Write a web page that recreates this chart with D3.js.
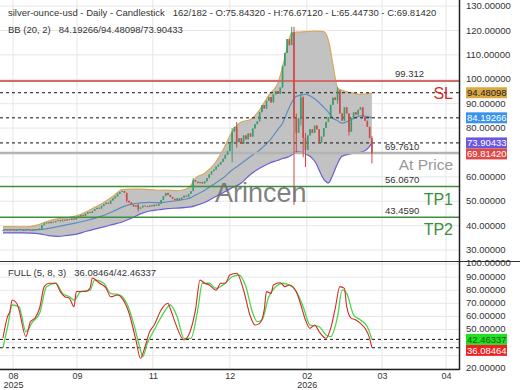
<!DOCTYPE html>
<meta charset="utf-8">
<style>
body { margin:0; background:#fff; }
text { font-family: "Liberation Sans", Arial, sans-serif; }
.grid line { stroke:#e6e6e6; stroke-width:1; }
.axis text { fill:#333; font-size:9.5px; }
.hdr { fill:#333; font-size:9.5px; white-space:pre; }
.lvl { fill:#333; font-size:9.5px; }
</style>
<body>
<svg width="520" height="390"></svg>
<script src="https://cdn.jsdelivr.net/npm/d3@7"></script>
<script>
// daily closes, bar 0 .. 161 (open = previous close)
var closes = [
  38.2,38.4,38.1,38.5,38.3,38.0,38.4,38.6,38.3,38.1,38.5,38.2,38.0,38.4,38.3,38.6,38.8,
  40.2,40.9,41.3,41.0,41.6,41.4,41.9,42.2,41.8,42.4,42.1,42.6,42.3,42.9,42.5,
  43.2,43.8,44.4,44.0,44.9,45.5,45.2,
  46.0,46.8,47.3,47.0,48.1,48.8,49.4,49.0,50.3,51.2,52.0,53.1,53.8,
  54.2,53.4,
  50.2,49.5,48.6,47.8,48.4,46.9,
  47.5,48.2,48.0,47.6,48.3,47.9,48.6,48.2,49.0,
  50.5,52.1,53.4,52.6,
  51.8,51.0,50.4,51.2,50.6,
  51.5,52.3,51.9,53.0,54.1,
  58.6,
  58.0,57.4,57.9,57.3,58.2,
  59.5,61.0,62.3,63.0,64.2,65.0,66.1,67.4,69.0,
  70.5,73.8,78.6,
  80.5,74.2,75.8,73.5,77.0,75.4,77.8,76.5,
  79.8,81.6,82.8,86.5,89.4,
  88.0,91.2,92.7,90.5,93.8,95.2,94.0,96.6,
  105.5,110.8,116.5,114.0,119.2,
  84.0,
  78.0,84.0,92.5,76.0,71.0,
  77.0,79.5,78.0,81.0,79.5,74.0,76.5,80.0,82.5,84.5,89.5,92.5,91.5,95.5,
  86.0,83.0,88.5,86.0,78.5,84.0,86.5,85.5,87.5,88.5,84.5,83.0,80.5,75.8432,69.8142
];
// notable wicks: [bar, high, low]
var wicks = [
  [54,53.5,49.5],[59,49.0,45.8],[83,59.5,55.5],[100,80.0,66.0],[102,82.5,72.0],
  [126,121.5,117.0],[127,121.5,48.5],[128,86.0,70.0],[130,94.0,81.0],[131,93.0,68.0],
  [132,78.0,64.0],[146,96.8,90.0],[151,86.0,77.0],[161,76.6712,65.4473]
];

// Bollinger (20, 2)
var bbIdx = [0,4,8,12,16,20,24,28,32,36,40,44,48,52,56,60,64,68,72,76,80,82,84,88,92,96,100,104,108,112,116,120,122,124,126,128,132,136,140,142,144,146,148,152,156,160,161];
var bbUpper = [39.6,39.6,39.5,39.6,40.5,42.0,42.8,43.3,44.0,45.5,47.5,49.5,52.0,54.8,55.0,55.0,54.8,54.5,54.6,54.3,55.0,56.5,59.5,61.5,65.0,71.0,78.5,82.5,83.5,87.5,93.5,98.5,105.0,113.0,119.0,119.3,119.5,119.7,119.5,116.0,106.0,96.5,95.5,94.5,93.8,94.2,94.48098];
var bbMid = [38.3,38.3,38.3,38.3,38.4,38.9,39.6,40.4,41.1,42.0,43.0,44.2,45.8,47.6,48.8,49.3,49.5,49.4,49.8,50.2,50.9,51.5,52.5,54.5,57.0,59.5,62.8,65.5,68.3,71.0,74.5,79.5,82.0,86.5,90.5,93.0,93.8,92.0,88.5,86.5,84.0,83.0,82.0,83.5,85.0,84.5,84.19266];
var bbLower = [37.0,37.0,37.0,36.9,36.6,35.9,35.6,36.0,36.5,37.6,38.6,39.5,40.5,41.5,43.0,44.8,46.0,46.5,47.0,47.2,47.5,47.7,48.2,49.5,51.5,53.5,55.5,57.5,61.0,63.5,65.5,66.8,67.5,68.0,69.0,70.3,69.5,66.5,59.0,57.5,61.0,65.5,68.5,69.5,70.0,72.5,73.90433];

// stochastic FULL (5, 8, 3): [bar, value]
var stochK = [[0,43.5],[2,60],[3,63.6],[4,72.5],[6,70],[7,65],[10,44.5],[12,56],[14,58.8],[16,66.4],[18,82.7],[20,85.3],[23,85.3],[25,78.9],[27,75],[29,73.8],[31,67.4],[32,79],[36,79],[38,81.7],[39,89.3],[42,85.5],[45,81.6],[47,75],[50,76.3],[52,73.8],[55,62.6],[58,42],[60,28],[62,36.9],[64,48.3],[66,53.4],[69,64.9],[72,70],[73,66],[75,56],[79,42],[80,43],[84,65],[86,87.8],[88,85.3],[90,84],[93,80],[95,85.3],[97,85.3],[99,91.6],[102,92.9],[105,80],[108,59.8],[110,53.4],[112,54.7],[114,65],[115,78.9],[117,77.6],[118,84],[121,85.7],[123,82.7],[125,84],[128,78.9],[130,68.7],[132,57.3],[134,50.9],[136,53.4],[138,48.3],[141,43.3],[143,50.9],[145,66.2],[147,82.7],[149,81.4],[150,67.4],[152,58.5],[154,57.3],[156,54.7],[158,50.9],[160,43.3],[161,36.08464]];
var stochD = [[0,36],[2,52],[4,68.7],[7,67.4],[10,48.3],[13,56],[16,62.4],[19,82.7],[23,85.3],[26,77.6],[29,75],[31,72.5],[34,78.9],[38,80],[40,87.8],[44,85.3],[47,77.6],[51,76.3],[54,70],[57,54.7],[60,34.4],[61,29.3],[63,39.5],[66,49.6],[70,62.4],[73,68.7],[76,59.8],[79,43.3],[82,43.3],[85,65],[87,85.3],[90,85.3],[93,81.4],[97,85.3],[100,90.3],[103,91.6],[106,82.7],[109,62.4],[111,56],[113,57.3],[116,75],[119,82.7],[122,85.3],[125,84],[128,78.9],[131,67.4],[134,53.4],[138,52.1],[141,45.8],[143,44.5],[146,59.8],[148,80.2],[150,77.6],[153,61.1],[156,57.3],[159,52.1],[161,42.46337]];

// price levels
var resist = 99.312, atPrice = 69.761, tp1 = 56.067, tp2 = 43.459;
var stochLevels = [42.46337, 36.08464];

// x axis ticks (bar position) and labels
var tickIdx = [4.4, 32.3, 65.4, 99, 132.6, 165.4, 193.3];
var tickLabels = ["08", "09", "11", "12", "02", "03", "04"];
var yearLabels = {"08": "2025", "02": "2026"};
var priceTicks = [30, 40, 50, 60, 70, 80, 90, 100, 110, 120, 130];
var priceLabelTicks = [30, 40, 50, 60, 80, 90, 100, 110, 120, 130];
var stochTicks = [20, 30, 40, 50, 60, 70, 80, 90, 100];
var stochLabelTicks = [20, 50, 60, 70, 80, 90, 100];

var svg = d3.select("svg"),
    plotW = 459;

var x = d3.scaleLinear().domain([-1.3, 199]).range([0, plotW]);
var yP = d3.scaleLinear().domain([25.5, 132.5]).range([261, 0]);
var yS = d3.scaleLinear().domain([19.85, 102.3]).range([369, 261]);

var defs = svg.append("defs");
defs.append("clipPath").attr("id", "cTop").append("rect").attr("x", 0).attr("y", 0).attr("width", plotW).attr("height", 261);
defs.append("clipPath").attr("id", "cBot").append("rect").attr("x", 0).attr("y", 261).attr("width", plotW).attr("height", 108);

// grids
var grid = svg.append("g").attr("class", "grid");
grid.selectAll(".gp").data(priceTicks).enter().append("line")
    .attr("x1", 0).attr("x2", plotW).attr("y1", yP).attr("y2", yP);
grid.selectAll(".gs").data(stochTicks).enter().append("line")
    .attr("x1", 0).attr("x2", plotW).attr("y1", yS).attr("y2", yS);
grid.selectAll(".gx").data(tickIdx).enter().append("line")
    .attr("x1", x).attr("x2", x).attr("y1", 0).attr("y2", 369);

// ---- price panel
var priceG = svg.append("g").attr("clip-path", "url(#cTop)");

var bb = bbIdx.map(function(d, i) { return {i: d, u: bbUpper[i], m: bbMid[i], l: bbLower[i]}; });
priceG.append("path").datum(bb)
    .attr("fill", "#c2c2c2")
    .attr("d", d3.area().curve(d3.curveMonotoneX)
      .x(function(d) { return x(d.i); })
      .y0(function(d) { return yP(d.l); })
      .y1(function(d) { return yP(d.u); }));
function bbLine(key, color) {
  priceG.append("path").datum(bb)
      .attr("fill", "none").attr("stroke", color).attr("stroke-width", 1.2)
      .attr("d", d3.line().curve(d3.curveMonotoneX)
        .x(function(d) { return x(d.i); })
        .y(function(d) { return yP(d[key]); }));
}
bbLine("u", "#d8a855");
bbLine("m", "#5c8ec0");
bbLine("l", "#6a5fd4");

// level lines
priceG.append("line").attr("x1", 0).attr("x2", plotW).attr("y1", yP(resist)).attr("y2", yP(resist))
    .attr("stroke", "#d46a6a").attr("stroke-width", 2);
priceG.append("line").attr("x1", 0).attr("x2", plotW).attr("y1", yP(atPrice)).attr("y2", yP(atPrice))
    .attr("stroke", "#b4b4b4").attr("stroke-width", 2.5);
[tp1, tp2].forEach(function(v) {
  priceG.append("line").attr("x1", 0).attr("x2", plotW).attr("y1", yP(v)).attr("y2", yP(v))
      .attr("stroke", "#3f8f3f").attr("stroke-width", 1.5);
});
[bbUpper[bbUpper.length - 1], bbMid[bbMid.length - 1], bbLower[bbLower.length - 1]].forEach(function(v) {
  priceG.append("line").attr("x1", 0).attr("x2", plotW).attr("y1", yP(v)).attr("y2", yP(v))
      .attr("stroke", "#111").attr("stroke-width", 1).attr("stroke-dasharray", "3,3");
});

// watermark
svg.append("text").attr("x", 215).attr("y", 202)
    .attr("fill", "#6a6a6a").attr("fill-opacity", 0.85)
    .style("font-size", "27px").text("Arincen");

// candles
var wickMap = {};
wicks.forEach(function(w) { wickMap[w[0]] = w; });
var candles = closes.map(function(c, i) {
  var o = i ? closes[i - 1] : c;
  var w = wickMap[i];
  return {i: i, o: o, c: c, h: w ? w[1] : Math.max(o, c), l: w ? w[2] : Math.min(o, c)};
});
var cg = priceG.append("g");
cg.selectAll("line").data(candles).enter().append("line")
    .attr("x1", function(d) { return x(d.i); })
    .attr("x2", function(d) { return x(d.i); })
    .attr("y1", function(d) { return yP(d.h); })
    .attr("y2", function(d) { return yP(d.l); })
    .attr("stroke", function(d) { return d.c >= d.o ? "#3a9d6a" : "#d04848"; })
    .attr("stroke-width", 1);
cg.selectAll("rect").data(candles).enter().append("rect")
    .attr("x", function(d) { return x(d.i) - 0.8; })
    .attr("width", 1.6)
    .attr("y", function(d) { return yP(Math.max(d.o, d.c)); })
    .attr("height", function(d) { return Math.max(0.8, Math.abs(yP(d.o) - yP(d.c))); })
    .attr("fill", function(d) { return d.c >= d.o ? "#3a9d6a" : "#d04848"; });

// level texts
function lvlText(v, s) {
  svg.append("text").attr("class", "lvl").attr("x", 385).attr("y", yP(v) - 3.5).text(s);
}
svg.append("text").attr("class", "lvl").attr("x", 395).attr("y", yP(resist) - 3.5).text(d3.format(".3f")(resist));
lvlText(atPrice, d3.format(".4f")(atPrice));
lvlText(tp1, d3.format(".4f")(tp1));
lvlText(tp2, d3.format(".4f")(tp2));
function tag(s, yy, color, size) {
  svg.append("text").attr("x", 453).attr("y", yy).attr("text-anchor", "end")
      .attr("fill", color).style("font-size", size).text(s);
}
tag("SL", yP(bbUpper[bbUpper.length - 1]) + 6, "#d42a2a", "16px");
tag("At Price", yP(atPrice) + 17, "#9a9a9a", "15.5px");
tag("TP1", yP(tp1) + 18.5, "#3a8f3a", "16px");
tag("TP2", yP(tp2) + 18, "#3a8f3a", "16px");

// ---- stochastic panel
var stochG = svg.append("g").attr("clip-path", "url(#cBot)");
stochLevels.forEach(function(v) {
  stochG.append("line").attr("x1", 0).attr("x2", plotW).attr("y1", yS(v)).attr("y2", yS(v))
      .attr("stroke", "#111").attr("stroke-width", 1).attr("stroke-dasharray", "3,3");
});
var sLine = d3.line().curve(d3.curveMonotoneX)
    .x(function(d) { return x(d[0]); })
    .y(function(d) { return yS(d[1]); });
stochG.append("path").datum(stochD).attr("fill", "none").attr("stroke", "#4cd64c").attr("stroke-width", 1.3).attr("d", sLine);
stochG.append("path").datum(stochK).attr("fill", "none").attr("stroke", "#d42828").attr("stroke-width", 1.1).attr("d", sLine);

// frame
svg.append("line").attr("x1", 0).attr("x2", 520).attr("y1", 261.5).attr("y2", 261.5).attr("stroke", "#333");
svg.append("line").attr("x1", 0).attr("x2", plotW).attr("y1", 369.5).attr("y2", 369.5).attr("stroke", "#222").attr("stroke-width", 1.5);
svg.append("line").attr("x1", plotW + 0.5).attr("x2", plotW + 0.5).attr("y1", 0).attr("y2", 370).attr("stroke", "#222").attr("stroke-width", 1.5);

// axes
var fmt = d3.format(".5f");
var ay = svg.append("g").attr("class", "axis").attr("transform", "translate(" + (plotW + 7) + ",0)")
    .call(d3.axisRight(yP).tickValues(priceLabelTicks).tickFormat(fmt).tickSize(0).tickPadding(0));
ay.select(".domain").remove();
ay.selectAll("text").attr("dy", "0.27em");
var as = svg.append("g").attr("class", "axis").attr("transform", "translate(" + (plotW + 7) + ",0)")
    .call(d3.axisRight(yS).tickValues(stochLabelTicks).tickFormat(fmt).tickSize(0).tickPadding(0));
as.select(".domain").remove();
as.selectAll("text").attr("dy", "0.2em");

var ax = svg.append("g").attr("class", "axis").attr("transform", "translate(0,370)")
    .call(d3.axisBottom(x).tickValues(tickIdx).tickFormat(function(d, i) { return tickLabels[i]; }).tickSize(0).tickPadding(3));
ax.select(".domain").remove();
ax.selectAll("text").style("font-size", "9px");
ax.selectAll(".tick").each(function(d, i) {
  var yl = yearLabels[tickLabels[i]];
  if (yl) d3.select(this).append("text").attr("y", 12).attr("dy", "0.71em").attr("fill", "#333")
      .style("font-size", "9px").text(yl);
});

// value badges, pushed apart when they would collide
function badges(list, scale) {
  var last = -1e9;
  list.forEach(function(b) {
    var yy = Math.max(scale(b[0]), last + 11);
    last = yy;
    svg.append("rect").attr("x", plotW + 7).attr("y", yy - 5.5).attr("width", 41).attr("height", 11).attr("fill", b[1]);
    svg.append("text").attr("x", plotW + 8).attr("y", yy + 3.2).attr("fill", b[2])
        .style("font-size", "9.5px").text(fmt(b[0]));
  });
}
badges([
  [bbUpper[bbUpper.length - 1], "#dca845", "#222"],
  [bbMid[bbMid.length - 1], "#3a94ea", "#fff"],
  [bbLower[bbLower.length - 1], "#6a56e0", "#fff"],
  [closes[closes.length - 1], "#e04848", "#fff"]
], yP);
badges([
  [stochLevels[0], "#22e022", "#1a5a1a"],
  [stochLevels[1], "#ee2222", "#fff"]
], yS);

// headers
svg.append("text").attr("class", "hdr").attr("x", 8).attr("y", 15.5)
    .text("silver-ounce-usd - Daily - Candlestick   162/182 - O:75.84320 - H:76.67120 - L:65.44730 - C:69.81420");
svg.append("text").attr("class", "hdr").attr("x", 8).attr("y", 33)
    .text("BB (20, 2)   " + [bbMid, bbUpper, bbLower].map(function(a) { return fmt(a[a.length - 1]); }).join("/"));
svg.append("text").attr("class", "hdr").attr("x", 8).attr("y", 276)
    .text("FULL (5, 8, 3)   " + fmt(stochLevels[1]) + "/" + fmt(stochLevels[0]));
</script>
</body>
